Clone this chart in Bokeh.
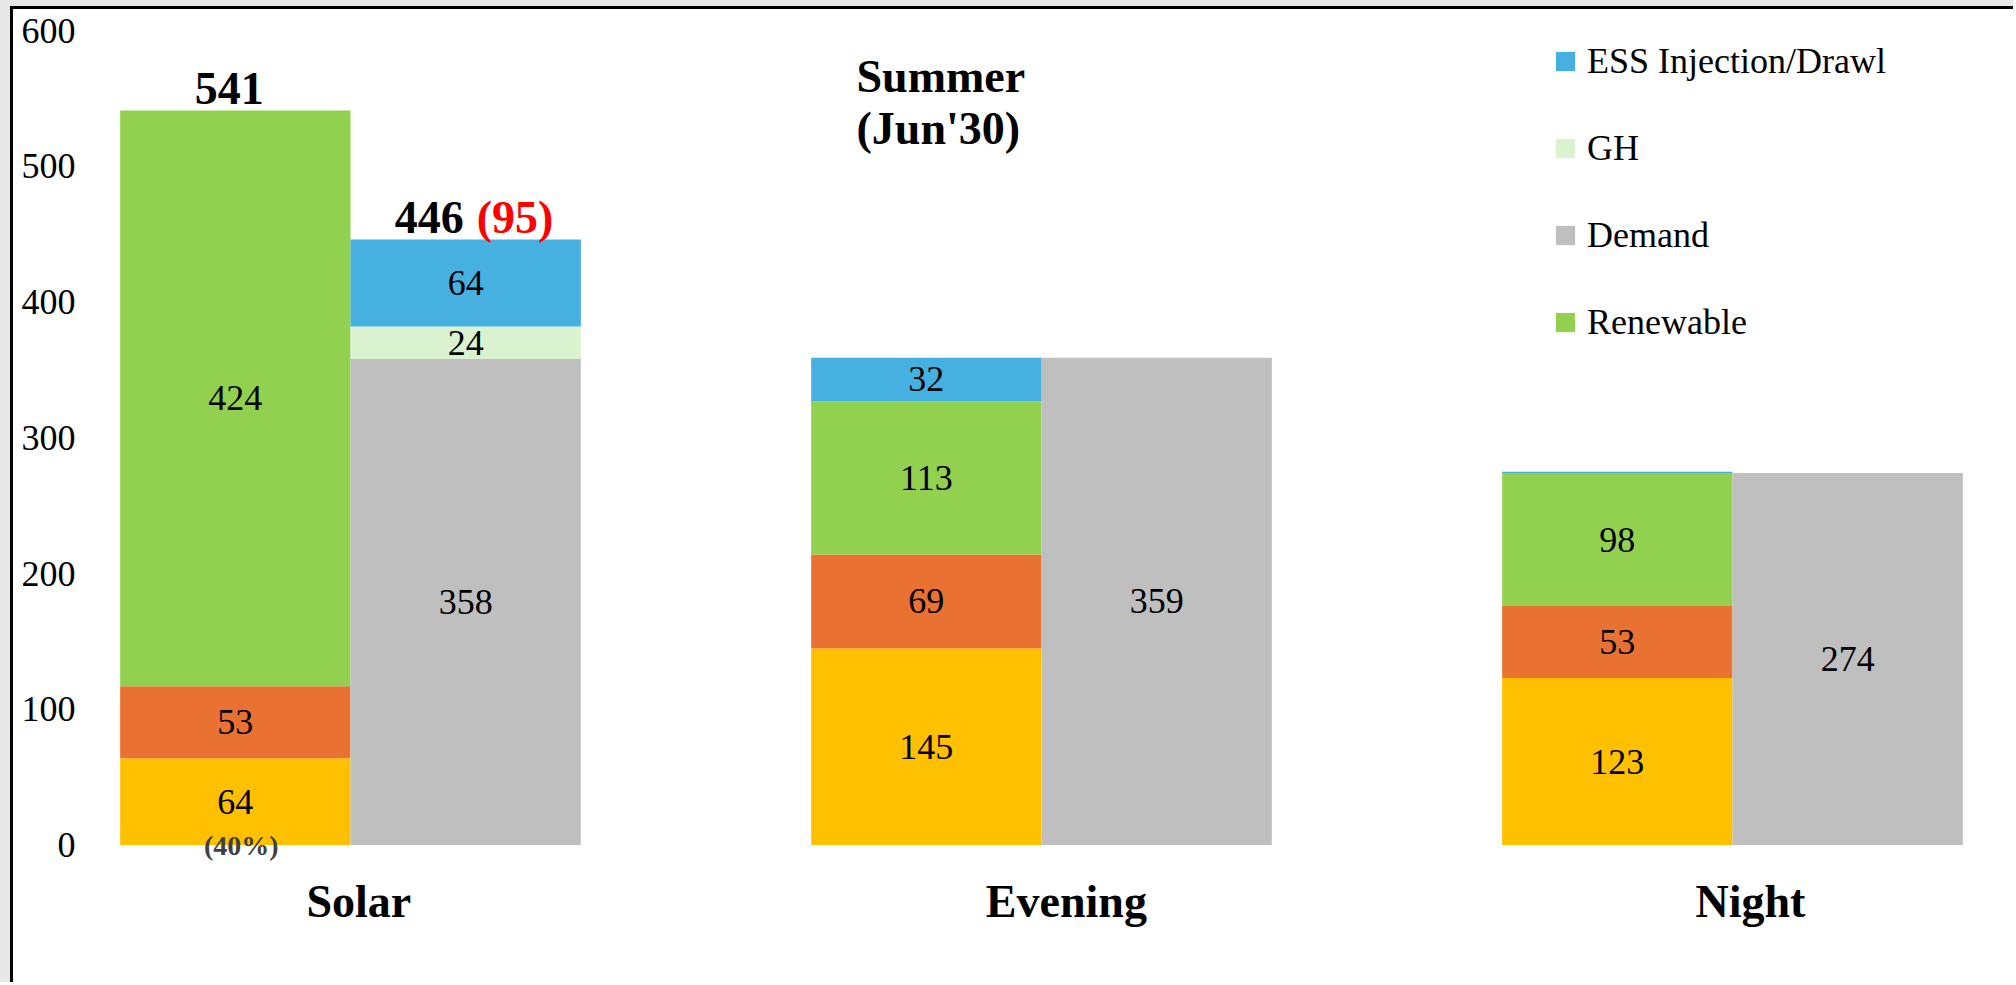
import numpy as np
from bokeh.plotting import figure
from bokeh.models import ColumnDataSource, Legend, LegendItem, FixedTicker, Range1d
from bokeh.layouts import column
from bokeh.core.properties import value
from bokeh.embed import file_html
from bokeh.resources import INLINE

# ---- data (MW) ----
periods = ["Solar", "Evening", "Night"]
thermal = [64, 145, 123]
hydro = [53, 69, 53]
renewable = [424, 113, 98]
demand = [358, 359, 274]
gh = [24, 0, 0]
ess = [64, 32, 1]
ess_on_demand_side = [True, False, False]
thermal_share = ["(40%)", "", ""]
y_ticks = [0, 100, 200, 300, 400, 500, 600]

COLORS = {
    "thermal": "#FFC000",
    "hydro": "#E97132",
    "renewable": "#92D050",
    "demand": "#BFBFBF",
    "gh": "#DAF2D0",
    "ess": "#46B1E1",
}
FONT = "Liberation Serif"
BAR_W = 1 / 3

idx = np.arange(len(periods), dtype=float)
x_supply = idx - BAR_W / 2
x_demand = idx + BAR_W / 2

p = figure(
    width=2003, height=976,
    x_range=Range1d((95 - 350) / 691, (2016 - 350) / 691),
    y_range=Range1d(-18, 600),
    output_backend="svg", toolbar_location=None,
    min_border_left=82, min_border_right=0, min_border_top=21, min_border_bottom=116,
    styles={"border-left": "3px solid #000", "border-top": "3px solid #000",
            "background-color": "white"},
)
p.outline_line_color = None
p.xgrid.visible = False
p.ygrid.visible = False
p.background_fill_color = "white"
p.border_fill_color = "white"

# stack bookkeeping for the two columns of every period
supply_base = np.zeros(len(periods))
demand_base = np.zeros(len(periods))


def add_segment(name, vals, xs, base):
    vals = np.asarray(vals, dtype=float)
    bottom = base.copy()
    top = base + vals
    labels = [str(int(v)) if v >= 10 else "" for v in vals]
    src = ColumnDataSource(dict(x=xs, bottom=bottom, top=top,
                                mid=(bottom + top) / 2, label=labels))
    r = p.vbar(x="x", bottom="bottom", top="top", width=BAR_W, source=src,
               fill_color=COLORS[name], line_color=None)
    p.text(x="x", y="mid", text="label", source=src, text_align="center",
           text_baseline="middle", text_font=value(FONT),
           text_font_size="36px", text_color="black")
    return r, top


ess_mask = np.array(ess_on_demand_side)
ess_arr = np.asarray(ess, dtype=float)

_, supply_base = add_segment("thermal", thermal, x_supply, supply_base)
_, supply_base = add_segment("hydro", hydro, x_supply, supply_base)
r_ren, supply_base = add_segment("renewable", renewable, x_supply, supply_base)
r_dem, demand_base = add_segment("demand", demand, x_demand, demand_base)
r_gh, demand_base = add_segment("gh", gh, x_demand, demand_base)

# ESS sits on top of whichever column it feeds
ess_x = np.where(ess_mask, x_demand, x_supply)
ess_base = np.where(ess_mask, demand_base, supply_base)
r_ess, ess_top = add_segment("ess", ess, ess_x, ess_base)

# thermal share note under the first bar
p.text(x=x_supply[:1], y=[0], text=thermal_share[:1], x_offset=6,
       text_align="center", text_baseline="middle", text_font=value(FONT),
       text_font_size="28px", text_font_style="bold", text_color="#404040")

# totals for the solar window
supply_total = np.asarray(thermal) + np.asarray(hydro) + np.asarray(renewable)
demand_total = np.asarray(demand) + np.asarray(gh) + np.where(ess_mask, ess_arr, 0)
surplus = supply_total - demand_total
p.text(x=x_supply[:1], y=supply_total[:1], text=[str(int(supply_total[0]))],
       x_offset=-6, y_offset=-22, text_align="center", text_baseline="middle",
       text_font=value(FONT), text_font_size="46px", text_font_style="bold",
       text_color="black")
p.text(x=x_demand[:1], y=demand_total[:1], text=[str(int(demand_total[0]))],
       x_offset=-2, y_offset=-22, text_align="right", text_baseline="middle",
       text_font=value(FONT), text_font_size="46px", text_font_style="bold",
       text_color="black")
p.text(x=x_demand[:1], y=demand_total[:1], text=[f"({int(surplus[0])})"],
       x_offset=11, y_offset=-22, text_align="left", text_baseline="middle",
       text_font=value(FONT), text_font_size="46px", text_font_style="bold",
       text_color="#FF0000")

# season heading
p.text(x=[(856 - 350) / 691] * 2, y=[566, 528], text=["Summer", "(Jun'30)"],
       text_align="left", text_baseline="middle", text_font=value(FONT),
       text_font_size="46px", text_font_style="bold", text_color="black")

# axes
p.yaxis.ticker = FixedTicker(ticks=y_ticks)
p.yaxis.axis_line_color = None
p.yaxis.major_tick_line_color = None
p.yaxis.minor_tick_line_color = None
p.yaxis.major_label_standoff = 14
p.yaxis.major_label_text_font = FONT
p.yaxis.major_label_text_font_size = "36px"
p.yaxis.major_label_text_color = "black"

label_pos = [0.012, 1.036, 2.026]
p.xaxis.ticker = FixedTicker(ticks=label_pos)
p.xaxis.major_label_overrides = {t: name for t, name in zip(label_pos, periods)}
p.xaxis.axis_line_color = None
p.xaxis.major_tick_line_color = None
p.xaxis.minor_tick_line_color = None
p.xaxis.major_label_standoff = 0
p.xaxis.major_label_text_font = FONT
p.xaxis.major_label_text_font_size = "46px"
p.xaxis.major_label_text_font_style = "bold"
p.xaxis.major_label_text_color = "black"

legend = Legend(
    items=[
        LegendItem(label="ESS Injection/Drawl", renderers=[r_ess]),
        LegendItem(label="GH", renderers=[r_gh]),
        LegendItem(label="Demand", renderers=[r_dem]),
        LegendItem(label="Renewable", renderers=[r_ren]),
    ],
    location=(1458, 525),
    label_text_font=FONT, label_text_font_size="36px", label_text_color="black",
    glyph_width=24, glyph_height=24, label_height=44, label_standoff=10,
    spacing=43, padding=0, margin=0,
    border_line_color=None, background_fill_alpha=0,
)
p.add_layout(legend)

page = column(p, styles={"background-color": "#e8e8e8", "padding": "6px 0 0 10px"})

open("out.html", "w").write(file_html(page, INLINE))
